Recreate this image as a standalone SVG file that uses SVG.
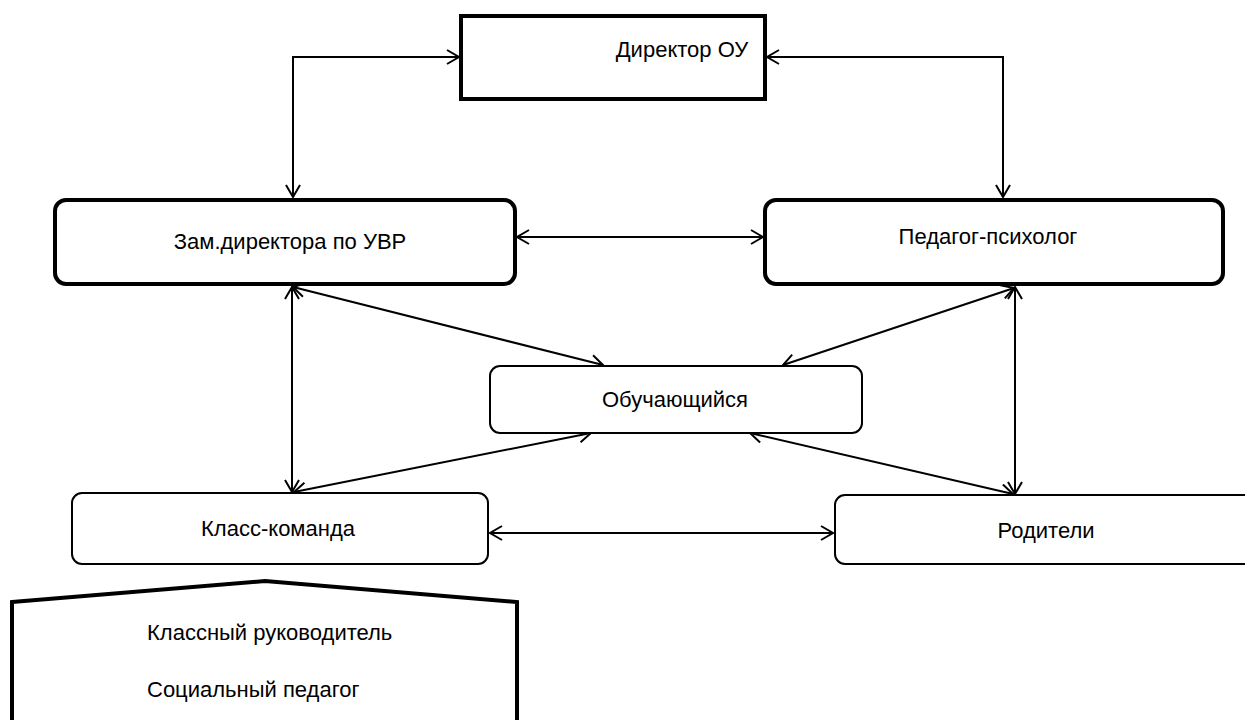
<svg xmlns="http://www.w3.org/2000/svg" width="1245" height="720" viewBox="0 0 1245 720">
<style>
.thick{fill:#fff;stroke:#000;stroke-width:4}
.thin{fill:#fff;stroke:#000;stroke-width:2}
.lbl{font-family:"Liberation Sans",Arial,sans-serif;font-size:22px;fill:#000;text-anchor:middle}
.lbl2{font-family:"Liberation Sans",Arial,sans-serif;font-size:22px;fill:#000}
.c{fill:none;stroke:#000;stroke-width:2;marker-start:url(#ah);marker-end:url(#ah)}
</style>
<defs>
<marker id="ah" markerUnits="userSpaceOnUse" markerWidth="16" markerHeight="16" viewBox="0 0 16 16" refX="14" refY="8" orient="auto-start-reverse">
<path d="M2,1 L14,8 L2,15" fill="none" stroke="#000" stroke-width="2"/>
</marker>
</defs>
<rect width="1245" height="720" fill="#fff"/>
<g id="connectors">
<path class="c" d="M459,57 H293 V197"/>
<path class="c" d="M767,57 H1003 V197"/>
<path class="c" d="M517,237 H763"/>
<path class="c" d="M292,287 V492"/>
<path class="c" d="M1015,287 V494"/>
<path class="c" d="M293,287 L603,365"/>
<path class="c" d="M1014,288 L783,365"/>
<path class="c" d="M294,492 L591,433"/>
<path class="c" d="M1013,494 L750,433"/>
<path class="c" d="M490,533 H833"/>
</g>
<g id="director">
<rect class="thick" x="461" y="16" width="304" height="83"/>
<text class="lbl" x="682" y="57">Директор ОУ</text>
</g>
<g id="zam">
<rect class="thick" x="55" y="200" width="460" height="84" rx="11"/>
<text class="lbl" x="290" y="249">Зам.директора по УВР</text>
</g>
<g id="pedagog">
<rect class="thick" x="765" y="200" width="458" height="84" rx="11"/>
<text class="lbl" x="988" y="244">Педагог-психолог</text>
</g>
<g id="student">
<rect class="thin" x="490" y="366" width="372" height="67" rx="10"/>
<text class="lbl" x="675" y="407">Обучающийся</text>
</g>
<g id="class-team">
<rect class="thin" x="72" y="493" width="416" height="71" rx="10"/>
<text class="lbl" x="278" y="536">Класс-команда</text>
</g>
<g id="parents">
<rect class="thin" x="835" y="495" width="430" height="69" rx="10"/>
<text class="lbl" x="1046" y="538">Родители</text>
</g>
<g id="staff">
<polygon class="thick" points="12,602 265,581 517,602 517,730 12,730"/>
<text class="lbl2" x="147" y="640">Классный руководитель</text>
<text class="lbl2" x="147" y="697">Социальный педагог</text>
</g>
</svg>
